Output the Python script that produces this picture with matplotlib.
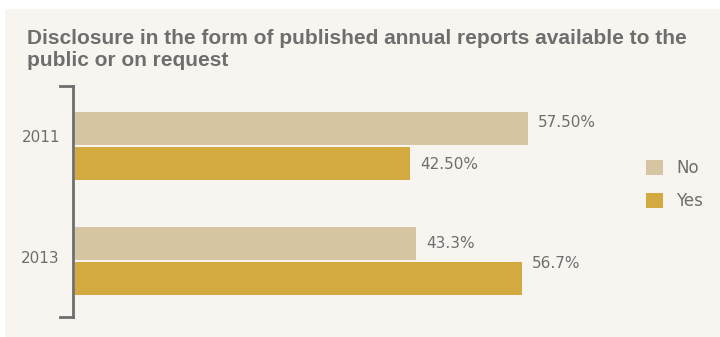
import matplotlib
matplotlib.use("Agg")
import matplotlib.pyplot as plt
from matplotlib.patches import Rectangle, Patch
from matplotlib.transforms import blended_transform_factory

# Survey results per year
years = ["2011", "2013"]
no_values = [57.5, 43.3]
yes_values = [42.5, 56.7]
no_labels = ["57.50%", "43.3%"]
yes_labels = ["42.50%", "56.7%"]

bg = "#f8f5f0"
no_color = "#d6c5a3"
yes_color = "#d2aa40"
text_grey = "#6e6e6e"

W, H = 720, 337
fig = plt.figure(figsize=(W / 100, H / 100), dpi=100)
fig.patch.set_facecolor("white")
fig.patches.append(Rectangle((5 / W, 0), 1, (H - 9) / H, transform=fig.transFigure,
                             facecolor=bg, edgecolor="none", zorder=-10))

fig.text(27 / W, 1 - 38 / H, "Disclosure in the form of published annual reports available to the",
         fontsize=15, fontweight="bold", color=text_grey, va="center", family="Liberation Sans")
fig.text(27 / W, 1 - 61 / H, "public or on request",
         fontsize=15, fontweight="bold", color=text_grey, va="center", family="Liberation Sans")

# axes spans the bracket from y=86 to y=317 px
ax = fig.add_axes([73 / W, 1 - 317 / H, (705 - 73) / W, (317 - 86) / H])
ax.set_facecolor("none")
ax.set_zorder(2)

ypos = list(range(len(years)))
h = 0.288
off = 0.153
ax.barh([y - off for y in ypos], no_values, height=h, color=no_color, label="No")
ax.barh([y + off for y in ypos], yes_values, height=h, color=yes_color, label="Yes")

pad = 1.3
no_shift = [-0.05, 0.0]
for y, v, lab, s in zip(ypos, no_values, no_labels, no_shift):
    ax.text(v + pad, y - off + s, lab, va="center", ha="left", fontsize=11, color=text_grey)
yes_shift = [0.01, -0.13]
for y, v, lab, s in zip(ypos, yes_values, yes_labels, yes_shift):
    ax.text(v + pad, y + off + s, lab, va="center", ha="left", fontsize=11, color=text_grey)

ax.set_xlim(-0.25, 80)
ax.set_ylim(1.493, -0.524)

for side in ["top", "right", "bottom"]:
    ax.spines[side].set_visible(False)
ax.spines["left"].set_color(text_grey)
ax.spines["left"].set_linewidth(2)
ax.set_xticks([])
ax.set_yticks([])

# year labels sit a little above the group centre
trans = blended_transform_factory(ax.transAxes, ax.transData)
year_shift = [-0.07, -0.02]
for y, yr, s in zip(ypos, years, year_shift):
    ax.text(-13 / (705 - 73), y + s, yr, transform=trans, ha="right", va="center",
            fontsize=11, color=text_grey)

# bracket ends
for yy in (0, 1):
    ax.plot([-13 / (705 - 73), 0], [yy, yy], transform=ax.transAxes, color=text_grey,
            linewidth=2, clip_on=False, solid_capstyle="projecting")

handles = [Patch(facecolor=no_color, label="No"), Patch(facecolor=yes_color, label="Yes")]
fig.legend(handles=handles, loc="upper left", bbox_to_anchor=(631 / W, 1 - 144 / H),
           frameon=False, fontsize=12, handlelength=1.0, handleheight=1.0,
           labelspacing=0.9, handletextpad=0.8, labelcolor=text_grey)

fig.savefig("out.png", dpi=100, facecolor="white")
